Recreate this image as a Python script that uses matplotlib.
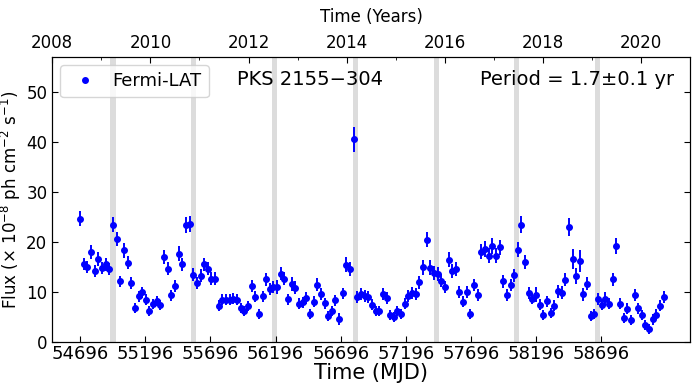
import matplotlib
matplotlib.use("Agg")
import matplotlib.pyplot as plt
import numpy as np

# Fermi-LAT light curve of PKS 2155-304 (28-day bins)
mjd = [
    54696, 54724, 54752, 54780, 54808, 54836, 54864, 54892, 54920, 54948,
    54976, 55004, 55032, 55060, 55088, 55116, 55144, 55172, 55200, 55228,
    55256, 55284, 55312, 55340, 55368, 55396, 55424, 55452, 55480, 55508,
    55536, 55564, 55592, 55620, 55648, 55676, 55704, 55732, 55760, 55788,
    55816, 55844, 55872, 55900, 55928, 55956, 55984, 56012, 56040, 56068,
    56096, 56124, 56152, 56180, 56208, 56236, 56264, 56292, 56320, 56348,
    56376, 56404, 56432, 56460, 56488, 56516, 56544, 56572, 56600, 56628,
    56656, 56684, 56712, 56740, 56768, 56796, 56824, 56852, 56880, 56908,
    56936, 56964, 56992, 57020, 57048, 57076, 57104, 57132, 57160, 57188,
    57216, 57244, 57272, 57300, 57328, 57356, 57384, 57412, 57440, 57468,
    57496, 57524, 57552, 57580, 57608, 57636, 57664, 57692, 57720, 57748,
    57776, 57804, 57832, 57860, 57888, 57916, 57944, 57972, 58000, 58028,
    58056, 58084, 58112, 58140, 58168, 58196, 58224, 58252, 58280, 58308,
    58336, 58364, 58392, 58420, 58448, 58476, 58504, 58532, 58560, 58588,
    58616, 58644, 58672, 58700, 58728, 58756, 58784, 58812, 58840, 58868,
    58896, 58924, 58952, 58980, 59008, 59036, 59064, 59092, 59120, 59148,
    59176,
]

flux = [
    24.7, 15.7, 15.1, 18.0, 14.3, 16.7, 14.9, 15.6, 14.7, 23.5,
    20.6, 12.2, 18.4, 15.9, 11.8, 6.8, 9.2, 10.0, 8.5, 6.3,
    7.7, 8.3, 7.5, 17.1, 14.7, 9.4, 11.2, 17.7, 15.6, 23.5,
    23.7, 13.5, 11.8, 13.3, 15.6, 14.7, 12.7, 12.7, 7.3, 8.5,
    8.5, 8.5, 8.7, 8.5, 6.8, 6.3, 7.2, 11.2, 9.1, 5.7,
    9.2, 12.6, 10.6, 11.0, 11.1, 13.7, 12.7, 8.6, 11.7, 10.9,
    7.7, 8.0, 8.8, 5.7, 8.1, 11.5, 9.6, 7.8, 5.3, 6.3,
    8.4, 4.7, 9.8, 15.5, 14.6, 40.5, 9.1, 9.7, 9.3, 9.1,
    7.5, 6.2, 6.2, 9.6, 8.9, 5.5, 5.0, 6.2, 5.7, 7.7,
    9.2, 9.9, 9.7, 12.0, 15.0, 20.5, 14.9, 13.9, 13.7, 12.3,
    11.1, 16.5, 14.3, 14.6, 10.1, 8.1, 10.1, 5.7, 11.5, 9.5,
    18.1, 18.7, 17.3, 19.3, 17.3, 19.0, 12.2, 9.5, 11.5, 13.4,
    18.5, 23.5, 16.0, 9.9, 8.7, 9.5, 7.5, 5.5, 8.2, 5.8,
    7.3, 10.2, 9.9, 12.5, 23.1, 16.7, 13.2, 16.2, 9.6, 11.7,
    5.3, 5.7, 8.6, 7.5, 8.7, 7.7, 12.6, 19.2, 7.7, 4.9,
    6.7, 4.4, 9.5, 6.8, 5.5, 3.5, 2.7, 4.6, 5.5, 7.3,
    9.1,
]

flux_err = [
    1.5, 1.2, 1.2, 1.4, 1.2, 1.4, 1.2, 1.3, 1.2, 1.5,
    1.4, 1.1, 1.5, 1.3, 1.2, 1.0, 1.1, 1.1, 1.1, 1.0,
    1.0, 1.0, 1.0, 1.4, 1.3, 1.1, 1.2, 1.5, 1.3, 1.6,
    1.6, 1.3, 1.2, 1.3, 1.3, 1.3, 1.3, 1.3, 1.1, 1.1,
    1.1, 1.1, 1.1, 1.1, 1.0, 1.0, 1.0, 1.2, 1.1, 1.0,
    1.1, 1.3, 1.2, 1.2, 1.4, 1.3, 1.3, 1.1, 1.4, 1.3,
    1.1, 1.1, 1.2, 1.0, 1.1, 1.3, 1.2, 1.1, 1.0, 1.0,
    1.1, 1.2, 1.1, 1.5, 1.4, 2.5, 1.2, 1.2, 1.2, 1.2,
    1.1, 1.0, 1.0, 1.2, 1.2, 1.0, 1.0, 1.0, 1.0, 1.1,
    1.2, 1.2, 1.2, 1.3, 1.5, 1.5, 1.5, 1.4, 1.4, 1.3,
    1.2, 1.5, 1.4, 1.4, 1.2, 1.1, 1.2, 1.0, 1.2, 1.2,
    1.5, 1.6, 1.5, 1.6, 1.5, 1.5, 1.3, 1.2, 1.2, 1.3,
    1.5, 1.7, 1.4, 1.2, 1.1, 1.5, 1.1, 1.0, 1.1, 1.0,
    1.1, 1.3, 1.3, 1.3, 1.8, 2.0, 1.6, 2.2, 1.3, 1.3,
    1.0, 1.0, 1.2, 1.1, 1.4, 1.1, 1.3, 1.6, 1.1, 1.0,
    1.1, 1.0, 1.2, 1.1, 1.0, 1.0, 1.0, 1.1, 1.1, 1.1,
    1.2,
]

# epochs of the periodic peaks (grey bands)
peaks = [54947, 55568, 56190, 56809, 57429, 58047, 58668]
band_half = 20

mjd_ticks = [54696, 55196, 55696, 56196, 56696, 57196, 57696, 58196, 58696]
year_ticks = [2008, 2010, 2012, 2014, 2016, 2018, 2020]

fig = plt.figure(figsize=(6.96, 3.87), dpi=100)
ax = fig.add_axes([0.075, 0.116, 0.917, 0.737])

for p in peaks:
    ax.axvspan(p - band_half, p + band_half, color="#dcdcdc", lw=0, zorder=0)

ax.errorbar(mjd, flux, yerr=flux_err, fmt="o", color="blue", ms=4,
            elinewidth=1.4, capsize=0, zorder=3)
# legend shows only the dot
ax.plot([], [], "o", color="blue", ms=4, label="Fermi-LAT")

ax.set_xlim(54481, 59381)
ax.set_ylim(0, 57)
ax.set_xticks(mjd_ticks)
ax.set_yticks([0, 10, 20, 30, 40, 50])
ax.tick_params(direction="in", right=True, labelsize=12, length=4)
ax.tick_params(axis="x", labelsize=13, pad=2)
ax.set_xlabel("Time (MJD)", fontsize=15, labelpad=0)
ax.set_ylabel(r"Flux ($\times$ 10$^{-8}$ ph cm$^{-2}$ s$^{-1}$)", fontsize=12, labelpad=2)

ax.legend(loc="upper left", fontsize=13, handlelength=1.9, handletextpad=0.6,
          borderaxespad=0.45)
ax.text(0.29, 0.955, "PKS 2155\u2212304", transform=ax.transAxes,
        fontsize=14, va="top", ha="left")
ax.text(0.975, 0.955, "Period = 1.7\u00b10.1 yr", transform=ax.transAxes,
        fontsize=14, va="top", ha="right")

# top axis in calendar years
ax2 = ax.twiny()
ax2.set_xlim(2008, 2021)
ax2.set_xticks(year_ticks)
ax2.set_xticks(range(2008, 2022), minor=True)
ax2.tick_params(direction="in", labelsize=12, length=4)
ax2.tick_params(which="minor", direction="in", length=2)
ax2.set_xlabel("Time (Years)", fontsize=12, labelpad=9)

fig.savefig("out.png", dpi=100)
